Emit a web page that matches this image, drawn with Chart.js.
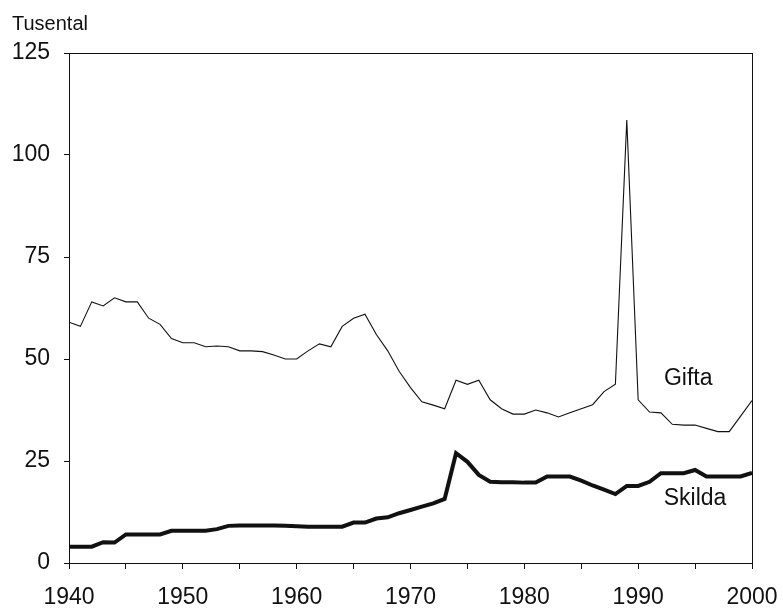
<!DOCTYPE html>
<html>
<head>
<meta charset="utf-8">
<script src="https://cdn.jsdelivr.net/npm/chart.js@4.4.1/dist/chart.umd.min.js"></script>
<style>
  html, body { margin: 0; padding: 0; background: #fff; }
  #wrap { width: 783px; height: 608px; position: relative; }
</style>
</head>
<body>
<div id="wrap"><canvas id="chart"></canvas></div>
<script>
// --- data (thousands) ---
const years = [];
for (let y = 1940; y <= 2000; y++) years.push(y);

const gifta = [
  59, 58, 64, 63, 65, 64, 64, 60, 58.5, 55,
  54, 54, 53, 53.2, 53, 52, 52, 51.8, 51, 50,
  50, 52, 53.7, 53, 58, 60, 61, 56, 52, 47,
  43, 39.5, 38.7, 37.8, 44.8, 43.8, 44.8, 40, 37.8, 36.5,
  36.5, 37.5, 36.8, 35.8, 36.8, 37.8, 38.8, 42, 43.8, 108.6,
  40, 37, 36.8, 34, 33.8, 33.8, 33, 32.2, 32.2, 36, 39.8
];

const skilda = [
  4, 4, 4, 5.1, 5, 7, 7, 7, 7, 7.9,
  7.9, 7.9, 7.9, 8.3, 9.1, 9.2, 9.2, 9.2, 9.2, 9.1,
  9, 8.9, 8.9, 8.9, 8.9, 9.9, 9.9, 10.9, 11.2, 12.2,
  13, 13.8, 14.6, 15.7, 26.9, 24.8, 21.6, 19.9, 19.8, 19.8,
  19.7, 19.7, 21.2, 21.2, 21.2, 20.2, 19, 18, 16.9, 18.9,
  18.9, 19.9, 22, 22, 22, 22.8, 21.2, 21.2, 21.2, 21.2, 22.1
];

const seriesLabels = [
  { text: 'Gifta', year: 1994.4, value: 45.3 },
  { text: 'Skilda', year: 1995.0, value: 15.7 }
];

const FONT = '"Liberation Sans", Arial, sans-serif';

// ram runt ritytan, enhetstext och serienamn
const decorations = {
  id: 'decorations',
  afterDraw(chart) {
    const { ctx, chartArea: a, scales } = chart;
    ctx.save();
    ctx.strokeStyle = '#111';
    ctx.lineWidth = 1;
    ctx.strokeRect(a.left + 0.5, a.top + 0.5, a.right - a.left, a.bottom - a.top);

    ctx.fillStyle = '#111';
    ctx.font = '20px ' + FONT;
    ctx.textAlign = 'left';
    ctx.textBaseline = 'alphabetic';
    ctx.fillText('Tusental', 12, 30);

    ctx.font = '23px ' + FONT;
    ctx.textAlign = 'center';
    ctx.textBaseline = 'middle';
    seriesLabels.forEach(l => {
      ctx.fillText(l.text, scales.x.getPixelForValue(l.year), scales.y.getPixelForValue(l.value));
    });
    ctx.restore();
  }
};

new Chart(document.getElementById('chart'), {
  type: 'line',
  data: {
    labels: years,
    datasets: [
      { label: 'Gifta', data: years.map((y, i) => ({ x: y, y: gifta[i] })),
        borderColor: '#111', borderWidth: 1.1, pointRadius: 0, tension: 0 },
      { label: 'Skilda', data: years.map((y, i) => ({ x: y, y: skilda[i] })),
        borderColor: '#111', borderWidth: 4, pointRadius: 0, tension: 0 }
    ]
  },
  options: {
    responsive: true,
    maintainAspectRatio: false,
    animation: false,
    layout: { padding: { top: 53, right: 31, left: 0, bottom: 0 } },
    plugins: { legend: { display: false }, tooltip: { enabled: false } },
    scales: {
      x: {
        type: 'linear',
        min: 1940, max: 2000,
        afterFit(scale) {
          scale.height = 45;
          scale.paddingLeft = 0;
          scale.paddingRight = 0;
        },
        border: { display: false },
        grid: { drawOnChartArea: false, drawTicks: true, tickLength: 6, tickColor: '#111' },
        ticks: {
          stepSize: 5,
          color: '#111',
          padding: 15,
          maxRotation: 0,
          font: { family: FONT, size: 23 },
          callback: v => (v % 10 === 0 ? String(v) : '')
        }
      },
      y: {
        min: 0, max: 125,
        afterFit(scale) {
          scale.width = 69;
          scale.paddingTop = 0;
          scale.paddingBottom = 0;
        },
        border: { display: false },
        grid: { drawOnChartArea: false, drawTicks: true, tickLength: 5, tickColor: '#111' },
        ticks: {
          stepSize: 25,
          color: '#111',
          padding: 14,
          font: { family: FONT, size: 23 }
        }
      }
    }
  },
  plugins: [decorations]
});
</script>
</body>
</html>
